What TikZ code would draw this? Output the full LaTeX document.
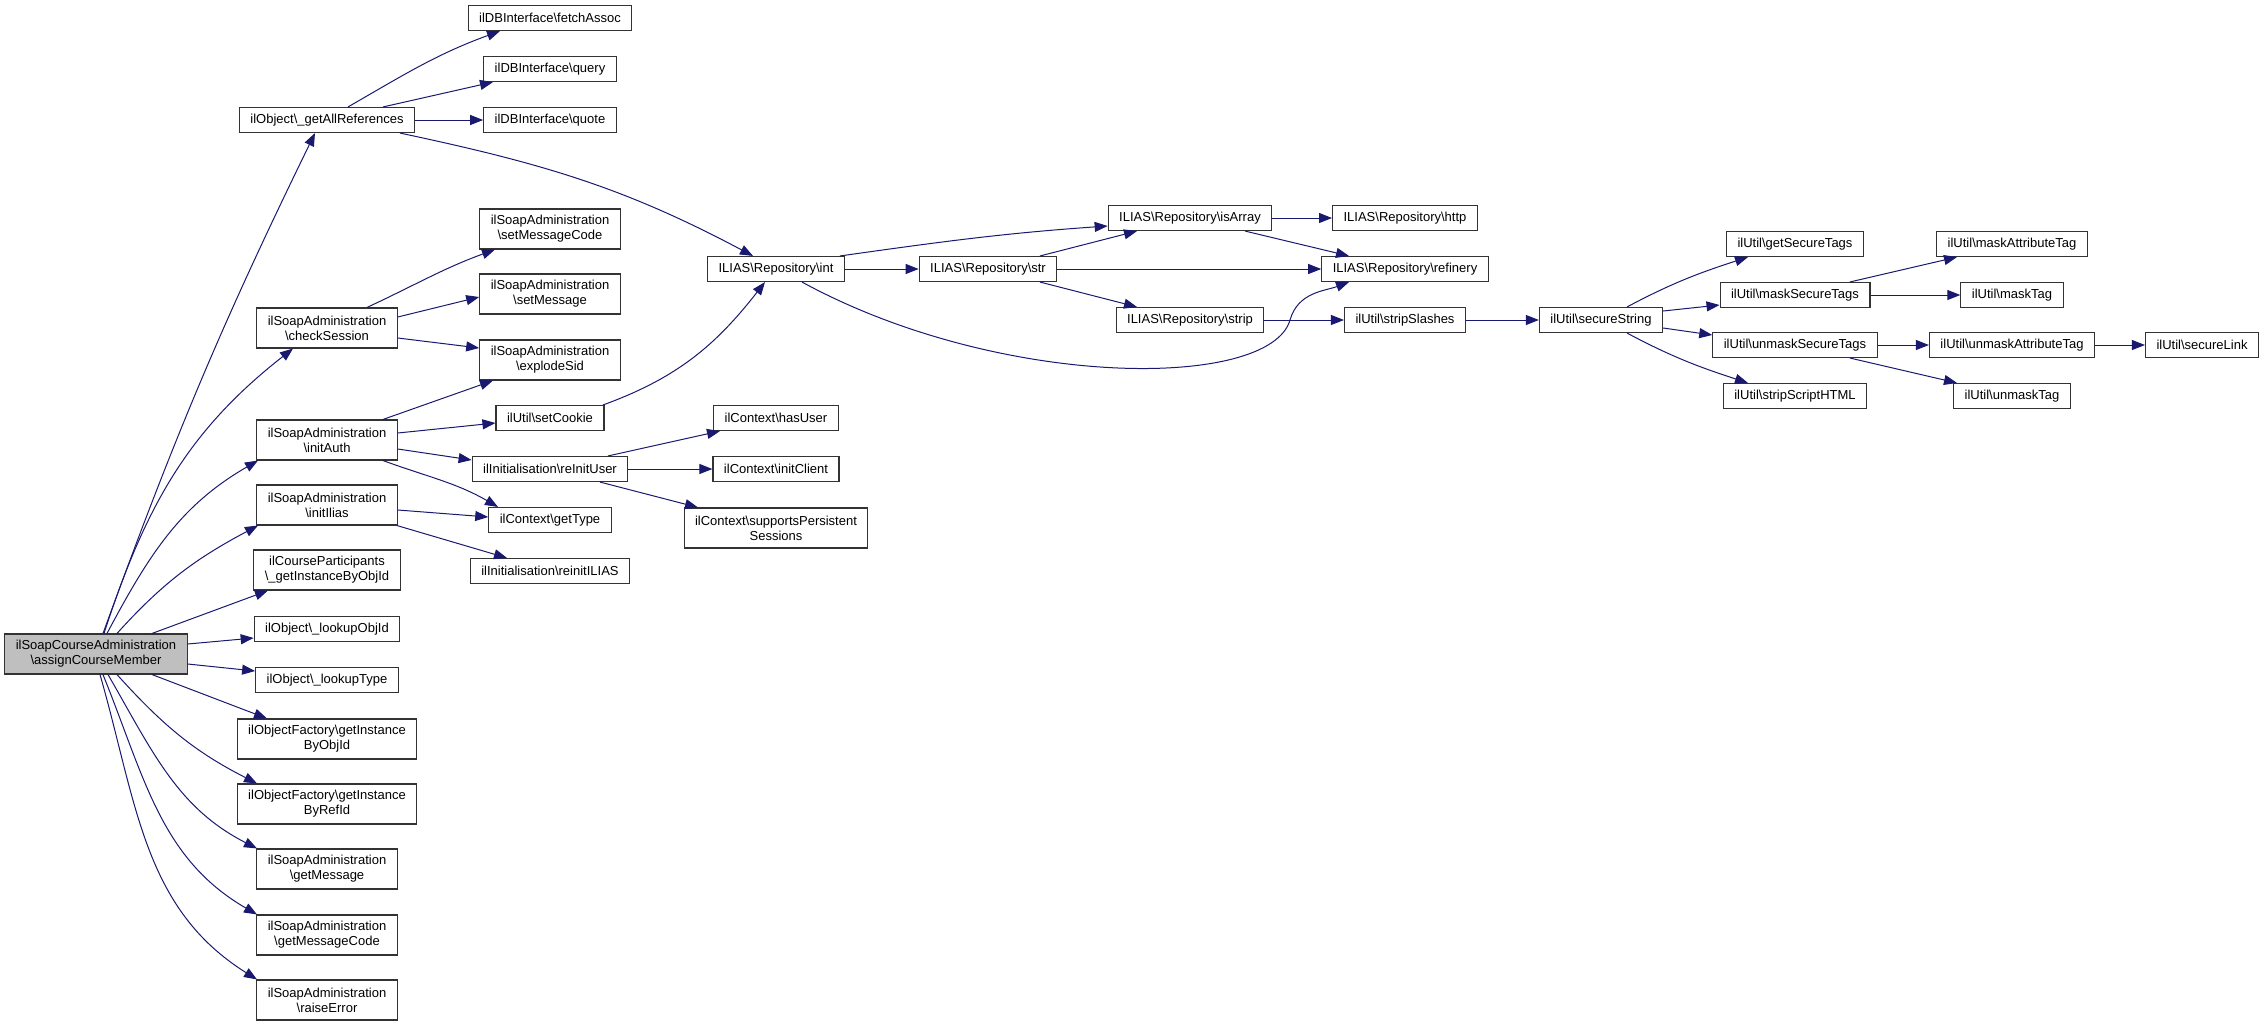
\documentclass[tikz,border=0pt]{standalone}
\usepackage{fontspec}
\setmainfont{Liberation Sans}
\usepackage{tikz}
\usetikzlibrary{arrows.meta}
\usetikzlibrary{positioning}
\definecolor{CallBlue}{HTML}{191970}
\def\bsl{\textbackslash}

\tikzset{
  fn/.style={draw=black!80, line width=1.1pt, fill=white, inner xsep=11pt, inner ysep=2pt,
    minimum height=25pt, align=center, font=\fontsize{13}{15}\selectfont},
  fntwo/.style={fn, minimum height=40pt},
  root/.style={fntwo, fill=black!25},
  call/.style={draw=CallBlue, line width=1pt, -{Triangle[length=13pt,width=10pt]}}
}

\begin{document}
\begin{tikzpicture}[x=1pt, y=-1pt]
\useasboundingbox (0,0) rectangle (2265,1026);

% columns
\def\xA {96}
\def\xB {327}
\def\xC {550}
\def\xD {776}
\def\xE {988}
\def\xF {1190}
\def\xG {1405}
\def\xH {1601}
\def\xI {1795}
\def\xJ {2012}
\def\xK {2202}

% caller
\node[root] (main) at (\xA,654) {ilSoapCourseAdministration\\\bsl assignCourseMember};

% first level
\node[fn]    (gar) at (\xB,120)  {ilObject\bsl\_getAllReferences};
\node[fntwo] (chk) at (\xB,328)  {ilSoapAdministration\\\bsl checkSession};
\node[fntwo] (iau) at (\xB,440)  {ilSoapAdministration\\\bsl initAuth};
\node[fntwo] (iil) at (\xB,505)  {ilSoapAdministration\\\bsl initIlias};
\node[fntwo] (cpi) at (\xB,570)  {ilCourseParticipants\\\bsl\_getInstanceByObjId};
\node[fn]    (loi) at (\xB,629)  {ilObject\bsl\_lookupObjId};
\node[fn]    (lot) at (\xB,680)  {ilObject\bsl\_lookupType};
\node[fntwo] (gio) at (\xB,739)  {ilObjectFactory\bsl getInstance\\ByObjId};
\node[fntwo] (gir) at (\xB,804)  {ilObjectFactory\bsl getInstance\\ByRefId};
\node[fntwo] (gms) at (\xB,869)  {ilSoapAdministration\\\bsl getMessage};
\node[fntwo] (gmc) at (\xB,935)  {ilSoapAdministration\\\bsl getMessageCode};
\node[fntwo] (rae) at (\xB,1000) {ilSoapAdministration\\\bsl raiseError};

% second level
\node[fn]    (fas) at (\xC,18)  {ilDBInterface\bsl fetchAssoc};
\node[fn]    (qry) at (\xC,69)  {ilDBInterface\bsl query};
\node[fn]    (quo) at (\xC,120) {ilDBInterface\bsl quote};
\node[fntwo] (smc) at (\xC,229) {ilSoapAdministration\\\bsl setMessageCode};
\node[fntwo] (smg) at (\xC,294) {ilSoapAdministration\\\bsl setMessage};
\node[fntwo] (exs) at (\xC,360) {ilSoapAdministration\\\bsl explodeSid};
\node[fn]    (sck) at (\xC,418) {ilUtil\bsl setCookie};
\node[fn]    (riu) at (\xC,469) {ilInitialisation\bsl reInitUser};
\node[fn]    (gty) at (\xC,520) {ilContext\bsl getType};
\node[fn]    (ril) at (\xC,571) {ilInitialisation\bsl reinitILIAS};

% third level
\node[fn]    (int) at (\xD,269) {ILIAS\bsl Repository\bsl int};
\node[fn]    (hus) at (\xD,418) {ilContext\bsl hasUser};
\node[fn]    (icl) at (\xD,469) {ilContext\bsl initClient};
\node[fntwo] (sps) at (\xD,528) {ilContext\bsl supportsPersistent\\Sessions};

% repository
\node[fn] (str) at (\xE,269) {ILIAS\bsl Repository\bsl str};
\node[fn] (isa) at (\xF,218) {ILIAS\bsl Repository\bsl isArray};
\node[fn] (stp) at (\xF,320) {ILIAS\bsl Repository\bsl strip};
\node[fn] (htp) at (\xG,218) {ILIAS\bsl Repository\bsl http};
\node[fn] (ref) at (\xG,269) {ILIAS\bsl Repository\bsl refinery};
\node[fn] (ssl) at (\xG,320) {ilUtil\bsl stripSlashes};

% ilUtil
\node[fn] (sst) at (\xH,320) {ilUtil\bsl secureString};
\node[fn] (gst) at (\xI,244) {ilUtil\bsl getSecureTags};
\node[fn] (mst) at (\xI,295) {ilUtil\bsl maskSecureTags};
\node[fn] (ust) at (\xI,345) {ilUtil\bsl unmaskSecureTags};
\node[fn] (ssh) at (\xI,396) {ilUtil\bsl stripScriptHTML};
\node[fn] (mat) at (\xJ,244) {ilUtil\bsl maskAttributeTag};
\node[fn] (mtg) at (\xJ,295) {ilUtil\bsl maskTag};
\node[fn] (uat) at (\xJ,345) {ilUtil\bsl unmaskAttributeTag};
\node[fn] (utg) at (\xJ,396) {ilUtil\bsl unmaskTag};
\node[fn] (slk) at (\xK,345) {ilUtil\bsl secureLink};

% calls of the caller
\draw[call] ([xshift=7]main.north) to[out=70,in=244] ([xshift=-12]gar.south);
\draw[call] ([xshift=8]main.north) to[out=72,in=218] ([xshift=-34]chk.south);
\draw[call] ([xshift=11]main.north) to[out=62,in=210] ([xshift=-69]iau.south);
\draw[call] ([xshift=21]main.north) to[out=48,in=208] ([xshift=-69]iil.south);
\draw[call] ([xshift=56]main.north) -- ([xshift=-59]cpi.south);
\draw[call] ([yshift=10]main.east) -- ([yshift=-9]loi.west);
\draw[call] ([yshift=-10]main.east) -- ([yshift=9]lot.west);
\draw[call] ([xshift=56]main.south) -- ([xshift=-60]gio.north);
\draw[call] ([xshift=21]main.south) to[out=-48,in=153] ([xshift=-70]gir.north);
\draw[call] ([xshift=12]main.south) to[out=-60,in=153] ([xshift=-70]gms.north);
\draw[call] ([xshift=7]main.south) to[out=-68,in=150] ([xshift=-70]gmc.north);
\draw[call] ([xshift=4]main.south) to[out=-74,in=148] ([xshift=-70]rae.north);

% getAllReferences
\draw[call] ([xshift=21]gar.north) to[out=30,in=200] ([xshift=-50]fas.south);
\draw[call] ([xshift=56]gar.north) -- ([xshift=-57]qry.south);
\draw[call] (gar) -- (quo);
\draw[call] ([xshift=73]gar.south) to[out=-12,in=152] ([xshift=-23]int.north);

% checkSession
\draw[call] ([xshift=40]chk.north) to[out=25,in=200] ([xshift=-55]smc.south);
\draw[call] ([yshift=11]chk.east) -- ([yshift=-3]smg.west);
\draw[call] ([yshift=-10]chk.east) -- ([yshift=12]exs.west);

% initAuth and initIlias
\draw[call] ([xshift=56]iau.north) -- ([xshift=-57]exs.south);
\draw[call] ([yshift=7]iau.east) -- ([yshift=-5]sck.west);
\draw[call] ([yshift=-9]iau.east) -- ([yshift=9]riu.west);
\draw[call] ([xshift=56]iau.south) to[out=-20,in=150] ([xshift=-52]gty.north);
\draw[call] ([yshift=-5]iil.east) -- ([yshift=3]gty.west);
\draw[call] ([xshift=70]iil.south) -- ([xshift=-43]ril.north);

% setCookie and reInitUser
\draw[call] ([xshift=53]sck.north) to[out=20,in=232] ([xshift=-11]int.south);
\draw[call] ([xshift=58]riu.north) -- ([xshift=-56]hus.south);
\draw[call] (riu) -- (icl);
\draw[call] ([xshift=50]riu.south) -- ([xshift=-78]sps.north);

% repository calls
\draw[call] ([xshift=64]int.north) to[out=8,in=184] ([yshift=-8]isa.west);
\draw[call] (int) -- (str);
\draw[call] ([xshift=26]int.south) .. controls (1000,390) and (1270,390) .. (1290,320)
  .. controls (1298,292) and (1325,291) .. ([xshift=-56]ref.south);
\draw[call] ([xshift=52]str.north) -- ([xshift=-53]isa.south);
\draw[call] (str) -- (ref);
\draw[call] ([xshift=52]str.south) -- ([xshift=-53]stp.north);
\draw[call] (isa) -- (htp);
\draw[call] ([xshift=55]isa.south) -- ([xshift=-56]ref.north);
\draw[call] (stp) -- (ssl);
\draw[call] (ssl) -- (sst);

% secureString
\draw[call] ([xshift=26]sst.north) to[out=28,in=198] ([xshift=-47]gst.south);
\draw[call] ([yshift=9]sst.east) -- ([yshift=-10]mst.west);
\draw[call] ([yshift=-8]sst.east) -- ([yshift=10]ust.west);
\draw[call] ([xshift=26]sst.south) to[out=-28,in=162] ([xshift=-47]ssh.north);
\draw[call] ([xshift=55]mst.north) -- ([xshift=-55]mat.south);
\draw[call] (mst) -- (mtg);
\draw[call] (ust) -- (uat);
\draw[call] ([xshift=55]ust.south) -- ([xshift=-55]utg.north);
\draw[call] (uat) -- (slk);

\end{tikzpicture}
\end{document}
